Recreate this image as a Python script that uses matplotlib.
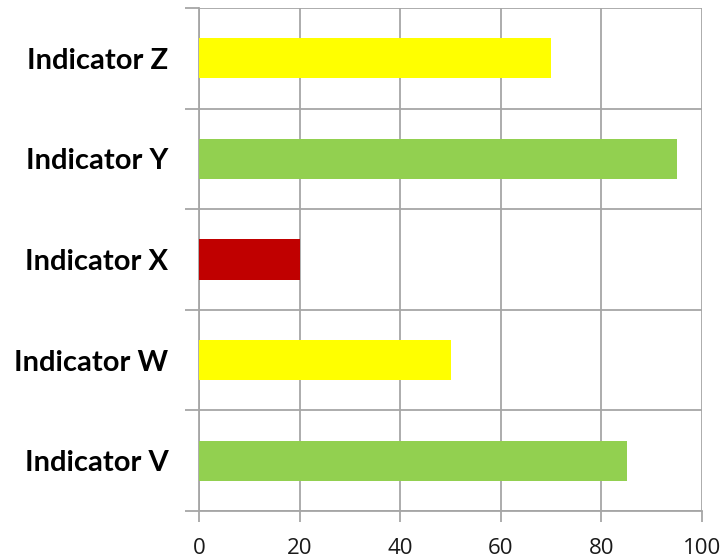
import matplotlib
matplotlib.use("Agg")
import matplotlib.pyplot as plt
import numpy as np

categories = ["Indicator V", "Indicator W", "Indicator X", "Indicator Y", "Indicator Z"]
values = [85, 50, 20, 95, 70]
colors = ["#92D050", "#FFFF00", "#C00000", "#92D050", "#FFFF00"]
xticks = [0, 20, 40, 60, 80, 100]

fig = plt.figure(figsize=(7.25, 5.58), dpi=100)
ax = fig.add_axes([199/725, 1-511/558, (702-199)/725, (511-8)/558])

grid_c = "#A6A6A6"
y = np.arange(len(categories))
ax.barh(y, values, height=0.4, color=colors, zorder=3)

ax.set_xlim(0, 100)
ax.set_ylim(-0.5, len(categories)-0.5)
ax.set_xticks(xticks)
ax.set_xticklabels([str(t) for t in xticks], fontsize=16, color="#1a1a1a", family="Open Sans")
ax.set_yticks(y)
ax.set_yticklabels(categories, fontsize=21, fontweight="bold", family="Lato", color="black")
ax.set_yticks(np.arange(-0.5, len(categories), 1.0), minor=True)

ax.tick_params(axis="y", which="major", length=0, pad=22)
ax.tick_params(axis="y", which="minor", length=10, color=grid_c, width=1.3, direction="out")
ax.tick_params(axis="x", which="major", length=8, color=grid_c, width=1.3, direction="out", pad=11.5)

ax.grid(axis="x", which="major", color=grid_c, linewidth=1.3, zorder=0)
ax.grid(axis="y", which="minor", color=grid_c, linewidth=1.3, zorder=0)
ax.set_axisbelow(True)

for s in ["top", "right"]:
    ax.spines[s].set_visible(False)
for s in ["left", "bottom"]:
    ax.spines[s].set_color(grid_c)
    ax.spines[s].set_linewidth(1.3)

fig.savefig("out.png", dpi=100)
